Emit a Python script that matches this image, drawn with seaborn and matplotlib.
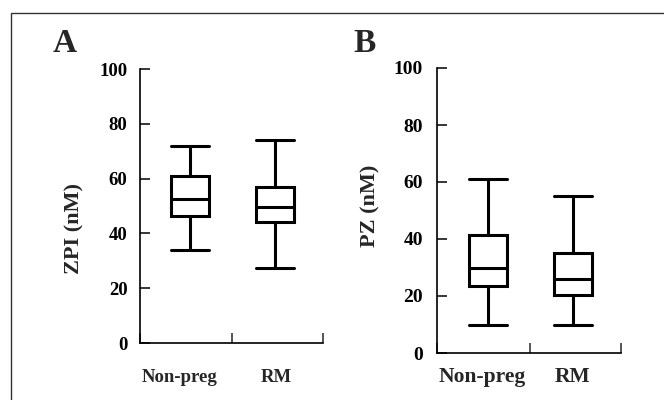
import numpy as np
import pandas as pd
import matplotlib
matplotlib.use("Agg")
import matplotlib.pyplot as plt
import seaborn as sns
from matplotlib.patches import Rectangle
from matplotlib.transforms import blended_transform_factory

groups = ["Non-preg", "RM"]
# five-number summaries per group: min, Q1, median, Q3, max
zpi_nonpreg = [34, 46.5, 52.5, 61, 72]
zpi_rm = [27.5, 44, 49.5, 57, 74]
pz_nonpreg = [10, 23.5, 30, 41.5, 61]
pz_rm = [9.8, 20.5, 26, 35, 55]
yticks = [0, 20, 40, 60, 80, 100]
ylabels = ["ZPI (nM)", "PZ (nM)"]
panel_letters = ["A", "B"]

sns.set_style("ticks")
plt.rcParams["font.family"] = ["Liberation Serif", "DejaVu Serif"]
plt.rcParams["font.weight"] = "bold"

W, H = 664, 400
fig = plt.figure(figsize=(W / 100, H / 100), dpi=100)

def px_axes(x0, x1, ytop, ybot):
    return fig.add_axes([x0 / W, 1 - ybot / H, (x1 - x0) / W, (ybot - ytop) / H])

panels = [
    dict(ax=px_axes(140, 323, 69, 343), vals=[zpi_nonpreg, zpi_rm], xlim=(-0.588, 1.565),
         tick_fs=13.5, tick_pad=9, cat_fs=13.5, ylab_xy=(74, 228), letter_xy=(53, 52),
         cat_y=377, cat_dx=(-0.12, 0.02)),
    dict(ax=px_axes(437, 621, 68, 353), vals=[pz_nonpreg, pz_rm], xlim=(-0.6, 1.565),
         tick_fs=14, tick_pad=10, cat_fs=15.5, ylab_xy=(370, 206), letter_xy=(353, 52),
         cat_y=377, cat_dx=(-0.07, 0.0)),
]

for i, p in enumerate(panels):
    ax = p["ax"]
    df = pd.DataFrame({
        "group": [groups[0]] * len(p["vals"][0]) + [groups[1]] * len(p["vals"][1]),
        "value": list(p["vals"][0]) + list(p["vals"][1]),
    })
    sns.boxplot(data=df, x="group", y="value", order=groups, ax=ax, whis=(0, 100),
                width=0.44, color="white", linecolor="black", linewidth=2.2,
                fliersize=0, capwidths=0.44)
    ax.set_xlim(*p["xlim"])
    ax.set_ylim(0, 100)
    ax.set_yticks(yticks)
    ax.set_yticklabels([str(t) for t in yticks])
    ax.tick_params(axis="y", direction="in", length=7, width=1.1, pad=p["tick_pad"],
                   labelsize=p["tick_fs"], colors="black")
    ax.set_xticks([p["xlim"][0], 0.5, p["xlim"][1]])
    ax.set_xticklabels(["", "", ""])
    ax.tick_params(axis="x", direction="in", length=7, width=1.1)
    for lab in ax.get_yticklabels():
        lab.set_fontweight("bold")
    ax.set_xlabel("")
    ax.set_ylabel("")
    for s in ["top", "right"]:
        ax.spines[s].set_visible(False)
    for s in ["left", "bottom"]:
        ax.spines[s].set_linewidth(1.2)
        ax.spines[s].set_color("black")
    ax.set_facecolor("none")
    # category labels
    trans = blended_transform_factory(ax.transData, fig.transFigure)
    for j, g in enumerate(groups):
        ax.text(j + p["cat_dx"][j], 1 - p["cat_y"] / H, g, transform=trans,
                ha="center", va="center", fontsize=p["cat_fs"], fontweight="bold",
                clip_on=False)
    fig.text(p["ylab_xy"][0] / W, 1 - p["ylab_xy"][1] / H, ylabels[i], rotation=90,
             ha="center", va="center", fontsize=16, fontweight="bold")
    fig.text(p["letter_xy"][0] / W, 1 - p["letter_xy"][1] / H, panel_letters[i],
             ha="left", va="baseline", fontsize=24, fontweight="bold")

frame = Rectangle((11 / W, -0.2), 1.5, 1 - 13 / H + 0.2, transform=fig.transFigure,
                  fill=False, edgecolor="#333333", linewidth=1.0, clip_on=False)
fig.patches.append(frame)

fig.savefig("out.png", dpi=100)
